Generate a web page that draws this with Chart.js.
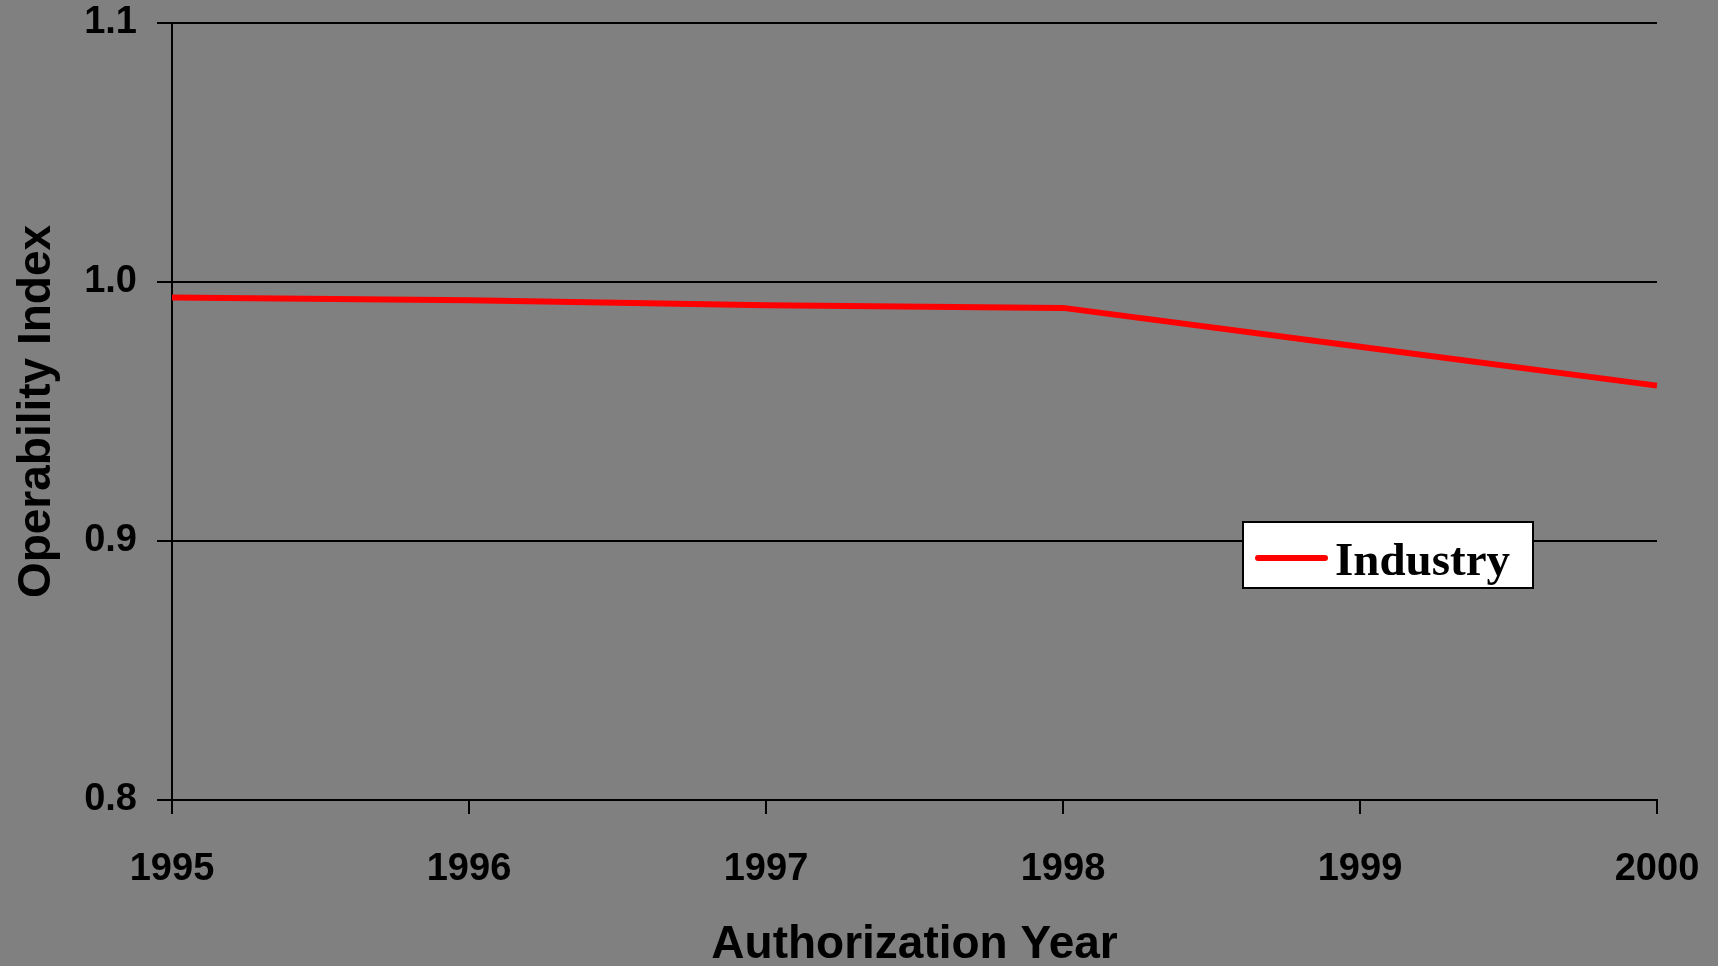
<!DOCTYPE html>
<html>
<head>
<meta charset="utf-8">
<title>Operability Index</title>
<script src="https://cdn.jsdelivr.net/npm/chart.js@4/dist/chart.umd.min.js"></script>
<style>
    html, body { margin: 0; padding: 0; background: #808080; overflow: hidden; }
    #grafico { display: block; }
</style>
</head>
<body>
<canvas id="grafico" width="1718" height="966"></canvas>
<script>
// ================= DADOS =================
const anos = ["1995", "1996", "1997", "1998", "1999", "2000"]
const industria = [0.994, 0.993, 0.991, 0.990, 0.975, 0.960]
const tickMin = 0.8
const tickMax = 1.1
const tickPasso = 0.1

// ================= ESTILO =================
const fonteSans = "'Liberation Sans', Arial, sans-serif"
const fonteSerif = "'Liberation Serif', 'Times New Roman', serif"

/**
 * Zera o padding automático das escalas (o layout manda)
 */
function zerarPadding(scale) {
    scale.paddingTop = 0
    scale.paddingBottom = 0
    scale.paddingLeft = 0
    scale.paddingRight = 0
}

/**
 * Legend box drawn inside the plot, like the original
 */
const legendaInterna = {
    id: "legendaInterna",
    afterDraw(chart) {
        const ctx = chart.ctx
        const ds = chart.data.datasets[0]
        const x = 1243, y = 522, w = 290, h = 66

        ctx.save()
        ctx.fillStyle = "#ffffff"
        ctx.fillRect(x, y, w, h)
        ctx.strokeStyle = "#000000"
        ctx.lineWidth = 2
        ctx.strokeRect(x, y, w, h)

        // line sample
        ctx.strokeStyle = ds.borderColor
        ctx.lineWidth = 6
        ctx.lineCap = "round"
        ctx.beginPath()
        ctx.moveTo(x + 15, y + 36)
        ctx.lineTo(x + 82, y + 36)
        ctx.stroke()

        // label
        ctx.fillStyle = "#000000"
        ctx.font = "bold 47px " + fonteSerif
        ctx.textBaseline = "alphabetic"
        ctx.textAlign = "left"
        ctx.fillText(ds.label, x + 92, y + 53)
        ctx.restore()
    }
}

// ===== GRÁFICO DE LINHA =====
const grafico = new Chart(document.getElementById("grafico"), {
    type: "line",
    data: {
        labels: anos,
        datasets: [
            {
                label: "Industry",
                data: industria,
                borderColor: "#ff0000",
                borderWidth: 6,
                borderCapStyle: "butt",
                borderJoinStyle: "round",
                pointRadius: 0,
                fill: false,
                tension: 0
            }
        ]
    },
    options: {
        responsive: false,
        animation: false,
        layout: { padding: { top: 23, right: 61, left: 0, bottom: 0 } },
        plugins: {
            legend: { display: false },
            tooltip: { enabled: false }
        },
        scales: {
            x: {
                offset: false,
                grid: {
                    drawOnChartArea: false,
                    drawTicks: true,
                    tickLength: 14,
                    color: "#000000",
                    lineWidth: 2
                },
                border: { display: true, color: "#000000", width: 2 },
                ticks: {
                    color: "#000000",
                    font: { family: fonteSans, size: 38, weight: "bold", lineHeight: 1.2 },
                    padding: 33,
                    maxRotation: 0,
                    autoSkip: false
                },
                title: {
                    display: true,
                    text: "Authorization Year",
                    color: "#000000",
                    font: { family: fonteSans, size: 46, weight: "bold", lineHeight: 0.9 },
                    padding: { top: 0, bottom: 0 }
                },
                afterFit(scale) {
                    scale.height = 166
                    zerarPadding(scale)
                }
            },
            y: {
                min: tickMin,
                max: tickMax,
                grid: {
                    drawOnChartArea: true,
                    drawTicks: true,
                    tickLength: 15,
                    color: "#000000",
                    lineWidth: 2
                },
                border: { display: true, color: "#000000", width: 2 },
                ticks: {
                    stepSize: tickPasso,
                    color: "#000000",
                    font: { family: fonteSans, size: 38, weight: "bold" },
                    padding: 20,
                    callback: v => Number(v).toFixed(1)
                },
                title: {
                    display: true,
                    text: "Operability Index",
                    color: "#000000",
                    font: { family: fonteSans, size: 46, weight: "bold", lineHeight: 1 },
                    padding: { top: 14, bottom: 0 }
                },
                afterFit(scale) {
                    scale.width = 172
                    zerarPadding(scale)
                }
            }
        }
    },
    plugins: [legendaInterna]
})
</script>
</body>
</html>
